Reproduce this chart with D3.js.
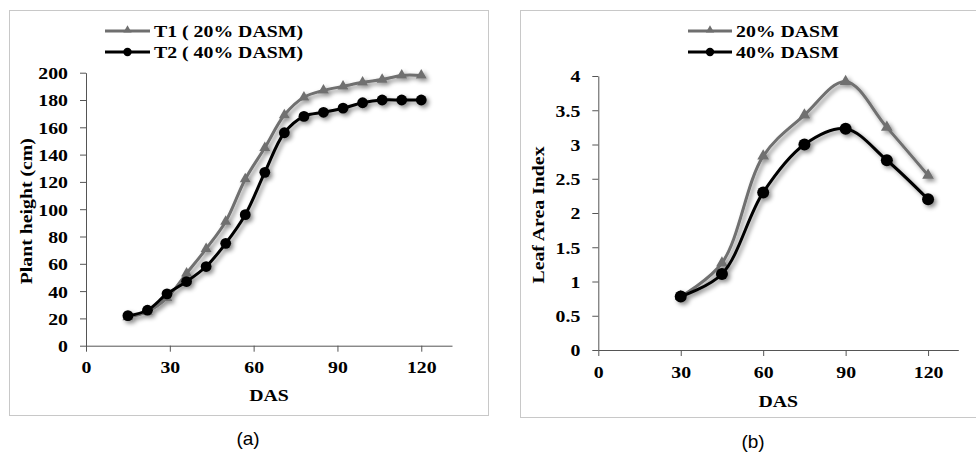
<!DOCTYPE html>
<html>
<head>
<meta charset="utf-8">
<script src="https://cdn.jsdelivr.net/npm/d3@7"></script>
<style>
  body { margin: 0; background: #fff; }
  text { font-family: "Liberation Serif", "Times New Roman", serif; font-weight: bold; fill: #000; }
  .cap { font-family: "Liberation Sans", Arial, sans-serif; font-weight: normal; }
</style>
</head>
<body>
<svg id="chart" width="976" height="454"></svg>
<script>
// panel (a): plant height
const dasA = [15, 22, 29, 36, 43, 50, 57, 64, 71, 78, 85, 92, 99, 106, 113, 120];
const heightT1 = [21, 25, 35, 53, 71, 91, 122, 145, 169, 182, 187, 190, 193, 195, 198, 198];
const heightT2 = [22, 26, 38, 47, 58, 75, 96, 127, 156, 168, 171, 174, 178, 180, 180, 180];
const ticksHeight = [0, 20, 40, 60, 80, 100, 120, 140, 160, 180, 200];

// panel (b): leaf area index
const dasB = [30, 45, 60, 75, 90, 105, 120];
const lai20 = [0.78, 1.27, 2.83, 3.43, 3.92, 3.25, 2.55];
const lai40 = [0.78, 1.11, 2.30, 3.00, 3.23, 2.77, 2.20];
const ticksLai = [0, 0.5, 1, 1.5, 2, 2.5, 3, 3.5, 4];

const ticksDas = [0, 30, 60, 90, 120];

const GRAY = "#6f6f6f";
const SX = 1.2; // text looks horizontally stretched

const svg = d3.select("#chart");

const defs = svg.append("defs");
defs.append("filter").attr("id", "shadow")
  .attr("x", "-20%").attr("y", "-20%").attr("width", "140%").attr("height", "140%")
  .append("feDropShadow")
  .attr("dx", 2.5).attr("dy", 2.5).attr("stdDeviation", 2)
  .attr("flood-color", "#000").attr("flood-opacity", 0.45);

function drawPanel(cfg) {
  // border
  svg.append("rect")
    .attr("x", cfg.box[0] + 0.5).attr("y", cfg.box[1] + 0.5)
    .attr("width", cfg.box[2]).attr("height", cfg.box[3])
    .attr("fill", "none").attr("stroke", "#c8c8c8").attr("stroke-width", 1);

  const x = d3.scaleLinear().domain([0, 131]).range([cfg.left, cfg.right]);
  const y = d3.scaleLinear().domain(cfg.yDomain).range([cfg.bottom, cfg.top]);

  const g = svg.append("g");

  // y axis
  const yAxis = g.append("g")
    .attr("transform", `translate(${cfg.left},0)`)
    .call(d3.axisLeft(y).tickValues(cfg.yTicks).tickSize(6).tickSizeOuter(0)
      .tickFormat(d => String(d)));
  yAxis.select(".domain").attr("stroke", "#555");
  yAxis.selectAll(".tick line").attr("stroke", "#555");
  yAxis.selectAll("text")
    .attr("x", -15).attr("dy", "0.36em")
    .attr("transform", `scale(${SX},1)`)
    .style("font-size", "16.5px")
    .style("font-family", "Liberation Serif").style("font-weight", "bold");

  // x axis
  const xAxis = g.append("g")
    .attr("transform", `translate(0,${cfg.bottom})`)
    .call(d3.axisBottom(x).tickValues(ticksDas).tickSize(6).tickSizeOuter(0));
  xAxis.select(".domain").attr("stroke", "#555");
  xAxis.selectAll(".tick line").attr("stroke", "#555");
  xAxis.selectAll("text")
    .attr("y", 16).attr("dy", "0.71em")
    .attr("transform", `scale(${SX},1)`)
    .style("font-size", "16.5px")
    .style("font-family", "Liberation Serif").style("font-weight", "bold");

  // axis titles
  g.append("text")
    .attr("transform", `translate(${(cfg.left + cfg.right) / 2},${cfg.dasY}) scale(${SX},1)`)
    .attr("text-anchor", "middle").style("font-size", "16.5px")
    .text("DAS");
  g.append("text")
    .attr("transform", `translate(${cfg.yTitleX},${(cfg.top + cfg.bottom) / 2 + 2}) rotate(-90) scale(${SX},1)`)
    .attr("text-anchor", "middle").style("font-size", "16.5px")
    .text(cfg.yTitle);

  // series
  const line = d3.line()
    .x(d => x(d[0])).y(d => y(d[1]))
    .curve(d3.curveCatmullRom.alpha(0.5));

  const plot = g.append("g").attr("filter", "url(#shadow)");
  const s1 = cfg.xs.map((v, i) => [v, cfg.s1[i]]);
  const s2 = cfg.xs.map((v, i) => [v, cfg.s2[i]]);

  plot.append("path").datum(s1).attr("d", line)
    .attr("fill", "none").attr("stroke", GRAY).attr("stroke-width", 3);
  plot.selectAll(".tri").data(s1).enter().append("path")
    .attr("class", "tri")
    .attr("transform", d => `translate(${x(d[0])},${y(d[1])})`)
    .attr("d", d3.symbol().type(d3.symbolTriangle).size(cfg.triSize))
    .attr("fill", GRAY);

  plot.append("path").datum(s2).attr("d", line)
    .attr("fill", "none").attr("stroke", "#000").attr("stroke-width", 3);
  plot.selectAll(".dot").data(s2).enter().append("circle")
    .attr("class", "dot")
    .attr("cx", d => x(d[0])).attr("cy", d => y(d[1]))
    .attr("r", cfg.r).attr("fill", "#000");

  // legend
  const lg = g.append("g");
  const items = [
    { name: cfg.names[0], color: GRAY, tri: true, y: cfg.legY[0] },
    { name: cfg.names[1], color: "#000", tri: false, y: cfg.legY[1] }
  ];
  items.forEach(it => {
    lg.append("line")
      .attr("x1", cfg.legX[0]).attr("x2", cfg.legX[1])
      .attr("y1", it.y).attr("y2", it.y)
      .attr("stroke", it.color).attr("stroke-width", 3);
    const mx = (cfg.legX[0] + cfg.legX[1]) / 2;
    if (it.tri) {
      lg.append("path")
        .attr("transform", `translate(${mx},${it.y - 1})`)
        .attr("d", d3.symbol().type(d3.symbolTriangle).size(30))
        .attr("fill", it.color);
    } else {
      lg.append("circle").attr("cx", mx).attr("cy", it.y).attr("r", 4.2).attr("fill", it.color);
    }
    lg.append("text")
      .attr("transform", `translate(${cfg.legX[1] + 4},${it.y + 6}) scale(${SX},1)`)
      .style("font-size", "16.5px")
      .text(it.name);
  });

  // caption
  svg.append("text").attr("class", "cap")
    .attr("x", cfg.capX).attr("y", cfg.capY)
    .attr("text-anchor", "middle").style("font-size", "19px")
    .text(cfg.caption);
}

drawPanel({
  box: [9, 10, 479, 405],
  left: 86, right: 452, top: 72.7, bottom: 345.7,
  yDomain: [0, 200], yTicks: ticksHeight,
  xs: dasA, s1: heightT1, s2: heightT2,
  names: ["T1 ( 20% DASM)", "T2 ( 40% DASM)"],
  legX: [105, 150], legY: [31, 52],
  yTitle: "Plant height (cm)", yTitleX: 32, dasY: 401,
  triSize: 52, r: 5.4,
  caption: "(a)", capX: 248, capY: 445
});

drawPanel({
  box: [520, 10, 470, 407],
  left: 598.3, right: 958.3, top: 76, bottom: 350,
  yDomain: [0, 4], yTicks: ticksLai,
  xs: dasB, s1: lai20, s2: lai40,
  names: ["20% DASM", "40% DASM"],
  legX: [688, 732], legY: [31, 52],
  yTitle: "Leaf Area Index", yTitleX: 544, dasY: 407,
  triSize: 60, r: 6,
  caption: "(b)", capX: 753, capY: 448
});
</script>
</body>
</html>
